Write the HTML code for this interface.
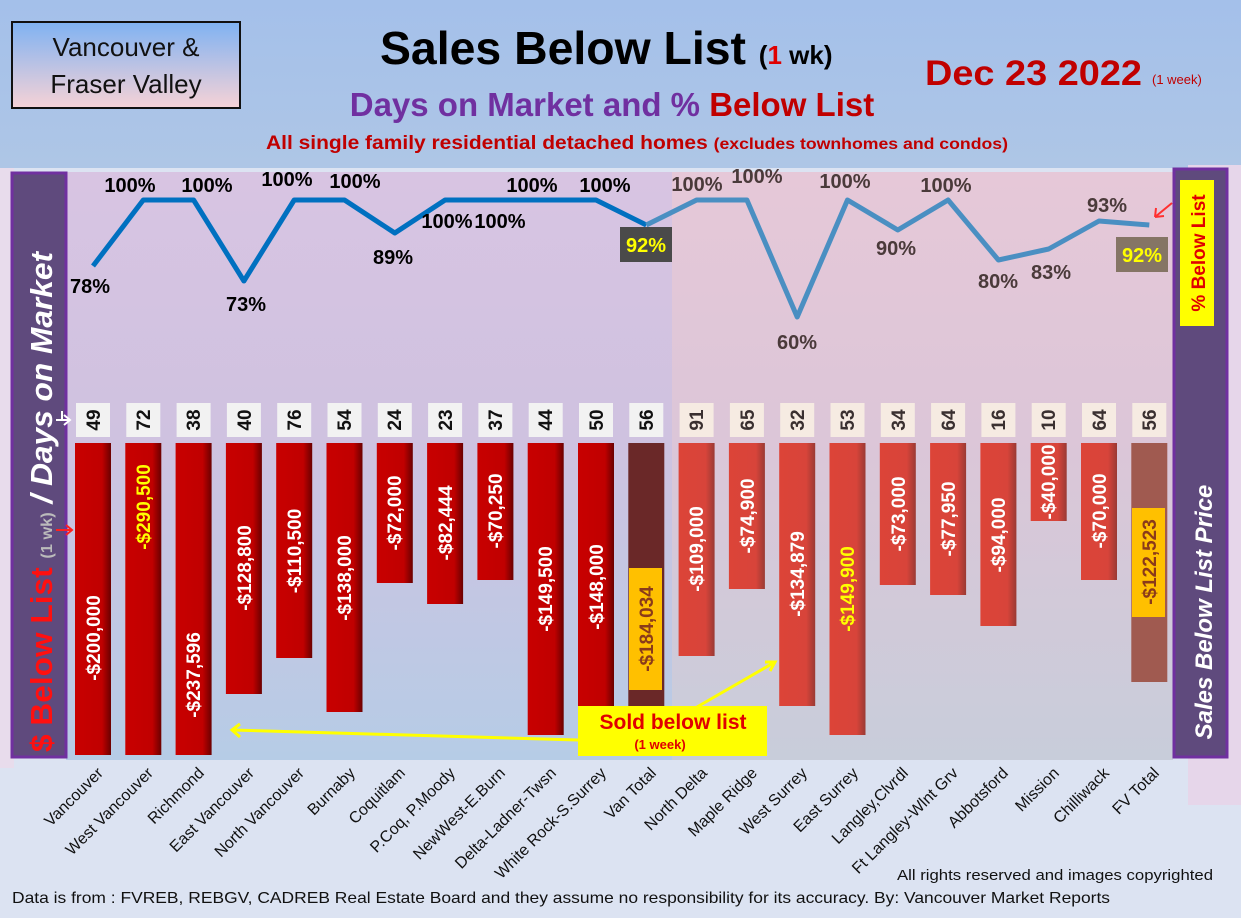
<!DOCTYPE html>
<html><head><meta charset="utf-8"><style>
html,body{margin:0;padding:0;width:1241px;height:918px;overflow:hidden;font-family:"Liberation Sans",sans-serif}
</style></head><body>
<svg width="1241" height="918" viewBox="0 0 1241 918" xmlns="http://www.w3.org/2000/svg" font-family="Liberation Sans, sans-serif">
<defs>
<linearGradient id="hdr" x1="0" y1="0" x2="0" y2="1"><stop offset="0" stop-color="#a4c0ea"/><stop offset="1" stop-color="#aec6e6"/></linearGradient>
<linearGradient id="vb" x1="0" y1="0" x2="0" y2="1"><stop offset="0" stop-color="#7fb2f2"/><stop offset="1" stop-color="#f6d2d6"/></linearGradient>
<linearGradient id="lp" x1="0" y1="0" x2="0" y2="1"><stop offset="0" stop-color="#d8c4e2"/><stop offset="0.45" stop-color="#cfc2e0"/><stop offset="1" stop-color="#b6cce6"/></linearGradient>
<linearGradient id="rp" x1="0" y1="0" x2="0" y2="1"><stop offset="0" stop-color="#e6c8d8"/><stop offset="0.45" stop-color="#dcc6d8"/><stop offset="1" stop-color="#c8cdda"/></linearGradient>
<linearGradient id="br" x1="0" y1="0" x2="1" y2="0"><stop offset="0" stop-color="#c80000"/><stop offset="0.75" stop-color="#c00000"/><stop offset="1" stop-color="#6a0000"/></linearGradient>
<linearGradient id="bf" x1="0" y1="0" x2="1" y2="0"><stop offset="0" stop-color="#dc4438"/><stop offset="0.75" stop-color="#d8443a"/><stop offset="1" stop-color="#9a3a34"/></linearGradient>
</defs>
<rect width="1241" height="918" fill="#dce3f2"/>
<rect width="1241" height="168" fill="url(#hdr)"/>
<rect x="1188" y="165" width="53" height="640" fill="#e6d6ea"/>
<rect x="0" y="168" width="14" height="600" fill="#e8dcec"/>
<rect x="66" y="172" width="606" height="588" fill="url(#lp)"/>
<rect x="672" y="172" width="501" height="588" fill="url(#rp)"/>
<rect x="12" y="22" width="228" height="86" fill="url(#vb)" stroke="#111" stroke-width="2"/>
<text x="126" y="56" font-size="26" text-anchor="middle" fill="#111">Vancouver &amp;</text>
<text x="126" y="93" font-size="26" text-anchor="middle" fill="#111">Fraser Valley</text>
<text x="380" y="64" font-size="46" font-weight="bold" fill="#000"><tspan textLength="366" lengthAdjust="spacingAndGlyphs">Sales Below List</tspan> <tspan font-size="26">(<tspan fill="#e00000">1</tspan> wk)</tspan></text>
<text x="612" y="116" font-size="33" font-weight="bold" text-anchor="middle" fill="#7030a0">Days on Market and % <tspan fill="#c00000">Below List</tspan></text>
<text x="266" y="149" font-size="19" font-weight="bold" fill="#c00000" textLength="742" lengthAdjust="spacingAndGlyphs">All single family residential detached homes <tspan font-size="16">(excludes townhomes and condos)</tspan></text>
<text x="925" y="85" font-size="35" font-weight="bold" fill="#c00000" textLength="217" lengthAdjust="spacingAndGlyphs">Dec 23  2022</text>
<text x="1152" y="84" font-size="13" fill="#c00000">(1 week)</text>
<rect x="12" y="173" width="54" height="584" fill="#5f4a7d" stroke="#7030a0" stroke-width="3"/>
<text transform="translate(52,752) rotate(-90)" font-size="31" font-weight="bold" fill="#ff1010" textLength="500" lengthAdjust="spacingAndGlyphs">$ Below List <tspan font-size="16" fill="#bbb">(1 wk)</tspan> <tspan fill="#fff" font-style="italic">/ Days on Market</tspan></text>
<rect x="1174" y="169" width="53" height="588" fill="#5f4a7d" stroke="#7030a0" stroke-width="3"/>
<rect x="1180" y="180" width="34" height="146" fill="#ffff00"/>
<text transform="translate(1205,253) rotate(-90)" font-size="19" font-weight="bold" fill="#e00000" text-anchor="middle">% Below List</text>
<text transform="translate(1212,612) rotate(-90)" font-size="24" font-weight="bold" font-style="italic" fill="#fff" text-anchor="middle">Sales Below List Price</text>
<g>
<rect x="75" y="443" width="36" height="312" fill="url(#br)"/>
<rect x="125.3" y="443" width="36" height="312" fill="url(#br)"/>
<rect x="175.6" y="443" width="36" height="312" fill="url(#br)"/>
<rect x="225.9" y="443" width="36" height="251" fill="url(#br)"/>
<rect x="276.2" y="443" width="36" height="215" fill="url(#br)"/>
<rect x="326.5" y="443" width="36" height="269" fill="url(#br)"/>
<rect x="376.8" y="443" width="36" height="140" fill="url(#br)"/>
<rect x="427.1" y="443" width="36" height="161" fill="url(#br)"/>
<rect x="477.4" y="443" width="36" height="137" fill="url(#br)"/>
<rect x="527.7" y="443" width="36" height="292" fill="url(#br)"/>
<rect x="578" y="443" width="36" height="289" fill="url(#br)"/>
<rect x="628.3" y="443" width="36" height="312" fill="#6a2828"/>
<rect x="678.6" y="443" width="36" height="213" fill="url(#bf)"/>
<rect x="728.9" y="443" width="36" height="146" fill="url(#bf)"/>
<rect x="779.2" y="443" width="36" height="263" fill="url(#bf)"/>
<rect x="829.5" y="443" width="36" height="292" fill="url(#bf)"/>
<rect x="879.8" y="443" width="36" height="142" fill="url(#bf)"/>
<rect x="930.1" y="443" width="36" height="152" fill="url(#bf)"/>
<rect x="980.4" y="443" width="36" height="183" fill="url(#bf)"/>
<rect x="1030.7" y="443" width="36" height="78" fill="url(#bf)"/>
<rect x="1081" y="443" width="36" height="137" fill="url(#bf)"/>
<rect x="1131.3" y="443" width="36" height="239" fill="#a05a50"/>
<rect x="629" y="568" width="33" height="122" fill="#ffc000"/>
<rect x="1132" y="508" width="33" height="109" fill="#ffc000"/>
</g>
<g font-size="19" font-weight="bold" fill="#fff" text-anchor="middle">
<text transform="translate(100,638) rotate(-90)">-$200,000</text>
<text transform="translate(150,507) rotate(-90)" fill="#ffff00">-$290,500</text>
<text transform="translate(200,675) rotate(-90)">-$237,596</text>
<text transform="translate(251,568) rotate(-90)">-$128,800</text>
<text transform="translate(301,551) rotate(-90)">-$110,500</text>
<text transform="translate(351,578) rotate(-90)">-$138,000</text>
<text transform="translate(401,513) rotate(-90)">-$72,000</text>
<text transform="translate(452,523) rotate(-90)">-$82,444</text>
<text transform="translate(502,511) rotate(-90)">-$70,250</text>
<text transform="translate(552,589) rotate(-90)">-$149,500</text>
<text transform="translate(603,587) rotate(-90)">-$148,000</text>
<text transform="translate(653,629) rotate(-90)" fill="#8a3a1a">-$184,034</text>
<text transform="translate(703,549) rotate(-90)">-$109,000</text>
<text transform="translate(754,516) rotate(-90)">-$74,900</text>
<text transform="translate(804,574) rotate(-90)">-$134,879</text>
<text transform="translate(854,589) rotate(-90)" fill="#ffff00">-$149,900</text>
<text transform="translate(905,514) rotate(-90)">-$73,000</text>
<text transform="translate(955,519) rotate(-90)">-$77,950</text>
<text transform="translate(1005,535) rotate(-90)">-$94,000</text>
<text transform="translate(1055,482) rotate(-90)">-$40,000</text>
<text transform="translate(1106,511) rotate(-90)">-$70,000</text>
<text transform="translate(1156,562) rotate(-90)" fill="#8a3a1a">-$122,523</text>
</g>
<g fill="#f2f2f2">
<rect x="76" y="403" width="34" height="34"/><rect x="126.3" y="403" width="34" height="34"/><rect x="176.6" y="403" width="34" height="34"/><rect x="226.9" y="403" width="34" height="34"/><rect x="277.2" y="403" width="34" height="34"/><rect x="327.5" y="403" width="34" height="34"/><rect x="377.8" y="403" width="34" height="34"/><rect x="428.1" y="403" width="34" height="34"/><rect x="478.4" y="403" width="34" height="34"/><rect x="528.7" y="403" width="34" height="34"/><rect x="579" y="403" width="34" height="34"/><rect x="629.3" y="403" width="34" height="34"/>
</g>
<g fill="#f6ebe2">
<rect x="679.6" y="403" width="34" height="34"/><rect x="729.9" y="403" width="34" height="34"/><rect x="780.2" y="403" width="34" height="34"/><rect x="830.5" y="403" width="34" height="34"/><rect x="880.8" y="403" width="34" height="34"/><rect x="931.1" y="403" width="34" height="34"/><rect x="981.4" y="403" width="34" height="34"/><rect x="1031.7" y="403" width="34" height="34"/><rect x="1082" y="403" width="34" height="34"/><rect x="1132.3" y="403" width="34" height="34"/>
</g>
<g font-size="19" font-weight="bold" fill="#111" text-anchor="middle">
<text transform="translate(100,420) rotate(-90)">49</text>
<text transform="translate(150,420) rotate(-90)">72</text>
<text transform="translate(200,420) rotate(-90)">38</text>
<text transform="translate(251,420) rotate(-90)">40</text>
<text transform="translate(301,420) rotate(-90)">76</text>
<text transform="translate(351,420) rotate(-90)">54</text>
<text transform="translate(401,420) rotate(-90)">24</text>
<text transform="translate(452,420) rotate(-90)">23</text>
<text transform="translate(502,420) rotate(-90)">37</text>
<text transform="translate(552,420) rotate(-90)">44</text>
<text transform="translate(603,420) rotate(-90)">50</text>
<text transform="translate(653,420) rotate(-90)">56</text>
</g>
<g font-size="19" font-weight="bold" fill="#3a3030" text-anchor="middle">
<text transform="translate(703,420) rotate(-90)">91</text>
<text transform="translate(754,420) rotate(-90)">65</text>
<text transform="translate(804,420) rotate(-90)">32</text>
<text transform="translate(854,420) rotate(-90)">53</text>
<text transform="translate(905,420) rotate(-90)">34</text>
<text transform="translate(955,420) rotate(-90)">64</text>
<text transform="translate(1005,420) rotate(-90)">16</text>
<text transform="translate(1055,420) rotate(-90)">10</text>
<text transform="translate(1106,420) rotate(-90)">64</text>
<text transform="translate(1156,420) rotate(-90)">56</text>
</g>
<polyline fill="none" stroke="#0070c0" stroke-width="5" stroke-linejoin="round" points="93,266 143.3,200 193.6,200 243.9,281 294.2,200 344.5,200 394.8,233 445.1,200 495.4,200 545.7,200 596,200 646.3,225"/>
<polyline fill="none" stroke="#4a8fc2" stroke-width="5" stroke-linejoin="round" points="646.3,225 696.6,200 746.9,200 797.2,317 847.5,200 897.8,230 948.1,200 998.4,260 1048.7,249 1099,221 1149.3,225"/>
<g font-size="20" font-weight="bold" fill="#000" text-anchor="middle">
<text x="90" y="293">78%</text>
<text x="130" y="192">100%</text>
<text x="207" y="192">100%</text>
<text x="246" y="311">73%</text>
<text x="287" y="186">100%</text>
<text x="355" y="188">100%</text>
<text x="393" y="264">89%</text>
<text x="447" y="228">100%</text>
<text x="500" y="228">100%</text>
<text x="532" y="192">100%</text>
<text x="605" y="192">100%</text>
</g>
<rect x="620" y="227" width="52" height="35" fill="#4a4a4a"/>
<text x="646" y="252" font-size="20" font-weight="bold" fill="#ffff00" text-anchor="middle">92%</text>
<g font-size="20" font-weight="bold" fill="#4a3a3a" text-anchor="middle">
<text x="697" y="191">100%</text>
<text x="757" y="183">100%</text>
<text x="797" y="349">60%</text>
<text x="845" y="188">100%</text>
<text x="896" y="255">90%</text>
<text x="946" y="192">100%</text>
<text x="998" y="288">80%</text>
<text x="1051" y="279">83%</text>
<text x="1107" y="212">93%</text>
</g>
<rect x="1116" y="237" width="52" height="35" fill="#857565"/>
<text x="1142" y="262" font-size="20" font-weight="bold" fill="#ffff00" text-anchor="middle">92%</text>
<path d="M1172,203 L1155,217 M1155,217 l9,-1 M1155,217 l1,-9" stroke="#ff3030" stroke-width="2" fill="none"/>
<path d="M56,420 L70,420 M64,415 L70,420 L64,425 M62,411 L62,420" stroke="#fff" stroke-width="2" fill="none"/>
<path d="M56,530 L72,530 M66,525 L72,530 L66,535" stroke="#ff2020" stroke-width="2" fill="none"/>
<path d="M578,740 L232,730 M240,724 L232,730 L240,737" stroke="#ffff00" stroke-width="3" fill="none"/>
<path d="M697,707 L775,662 M765,662 L775,662 L770,671" stroke="#ffff00" stroke-width="3" fill="none"/>
<rect x="578" y="706" width="189" height="50" fill="#ffff00"/>
<text x="673" y="729" font-size="21" font-weight="bold" fill="#e00000" text-anchor="middle">Sold below list</text>
<text x="660" y="749" font-size="13" font-weight="bold" fill="#e00000" text-anchor="middle">(1 week)</text>
<g font-size="16" fill="#111" text-anchor="end">
<text transform="translate(104,774) rotate(-45)">Vancouver</text>
<text transform="translate(154,774) rotate(-45)">West Vancouver</text>
<text transform="translate(205,774) rotate(-45)">Richmond</text>
<text transform="translate(255,774) rotate(-45)">East Vancouver</text>
<text transform="translate(305,774) rotate(-45)">North Vancouver</text>
<text transform="translate(356,774) rotate(-45)">Burnaby</text>
<text transform="translate(406,774) rotate(-45)">Coquitlam</text>
<text transform="translate(456,774) rotate(-45)">P.Coq, P.Moody</text>
<text transform="translate(506,774) rotate(-45)">NewWest-E.Burn</text>
<text transform="translate(557,774) rotate(-45)">Delta-Ladner-Twsn</text>
<text transform="translate(607,774) rotate(-45)">White Rock-S.Surrey</text>
<text transform="translate(657,774) rotate(-45)">Van Total</text>
<text transform="translate(708,774) rotate(-45)">North Delta</text>
<text transform="translate(758,774) rotate(-45)">Maple Ridge</text>
<text transform="translate(808,774) rotate(-45)">West Surrey</text>
<text transform="translate(859,774) rotate(-45)">East Surrey</text>
<text transform="translate(909,774) rotate(-45)">Langley,Clvrdl</text>
<text transform="translate(959,774) rotate(-45)">Ft Langley-Wlnt Grv</text>
<text transform="translate(1009,774) rotate(-45)">Abbotsford</text>
<text transform="translate(1060,774) rotate(-45)">Mission</text>
<text transform="translate(1110,774) rotate(-45)">Chilliwack</text>
<text transform="translate(1160,774) rotate(-45)">FV Total</text>
</g>
<text x="897" y="880" font-size="15" fill="#111" textLength="316" lengthAdjust="spacingAndGlyphs">All rights reserved and  images copyrighted</text>
<text x="12" y="903" font-size="16" fill="#111" textLength="1098" lengthAdjust="spacingAndGlyphs">Data is from : FVREB, REBGV, CADREB Real Estate Board and they assume no responsibility for its accuracy. By: Vancouver Market Reports</text>
</svg>
</body></html>
